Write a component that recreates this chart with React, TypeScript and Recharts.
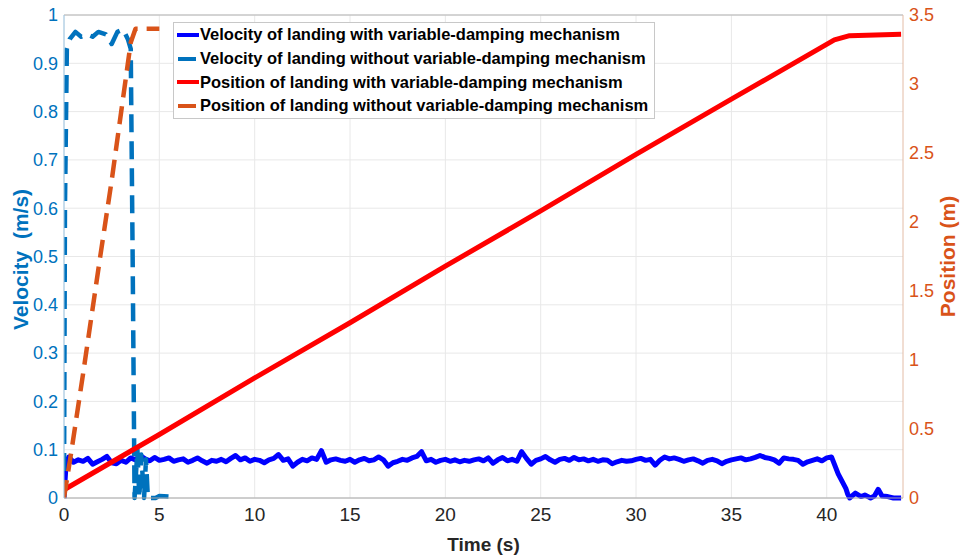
import React from "react";
import {
  ComposedChart,
  XAxis,
  YAxis,
  CartesianGrid,
  Line,
  ReferenceLine
} from "recharts";

// time (s) / value pairs
const velWithT = [
  0, 0.1, 0.25,
  0.5, 0.75, 1, 1.25, 1.5, 1.75, 2, 2.25,
  2.5, 2.75, 3, 3.25, 3.5, 3.75, 4, 4.25,
  4.5, 4.75, 5, 5.25, 5.5, 5.75, 6, 6.25,
  6.5, 6.75, 7, 7.25, 7.5, 7.75, 8, 8.25,
  8.5, 8.75, 9, 9.25, 9.5, 9.75, 10, 10.25,
  10.5, 10.75, 11, 11.25, 11.5, 11.75, 12, 12.25,
  12.5, 12.75, 13, 13.25, 13.5, 13.75, 14, 14.25,
  14.5, 14.75, 15, 15.25, 15.5, 15.75, 16, 16.25,
  16.5, 16.75, 17, 17.25, 17.5, 17.75, 18, 18.25,
  18.5, 18.75, 19, 19.25, 19.5, 19.75, 20, 20.25,
  20.5, 20.75, 21, 21.25, 21.5, 21.75, 22, 22.25,
  22.5, 22.75, 23, 23.25, 23.5, 23.75, 24, 24.25,
  24.5, 24.75, 25, 25.25, 25.5, 25.75, 26, 26.25,
  26.5, 26.75, 27, 27.25, 27.5, 27.75, 28, 28.25,
  28.5, 28.75, 29, 29.25, 29.5, 29.75, 30, 30.25,
  30.5, 30.75, 31, 31.25, 31.5, 31.75, 32, 32.25,
  32.5, 32.75, 33, 33.25, 33.5, 33.75, 34, 34.25,
  34.5, 34.75, 35, 35.25, 35.5, 35.75, 36, 36.25,
  36.5, 36.75, 37, 37.25, 37.5, 37.75, 38, 38.25,
  38.5, 38.75, 39, 39.25, 39.5, 39.75, 40, 40.25,
  40.4, 40.6, 40.8, 41, 41.1, 41.2, 41.5, 41.8, 42, 42.3, 42.5, 42.7, 42.9, 43.2, 43.5, 43.9
];
const velWithV = [
  0.0, 0.065, 0.085,
  0.074, 0.079, 0.076, 0.082, 0.07, 0.075, 0.08, 0.086,
  0.073, 0.071, 0.078, 0.074, 0.083, 0.079, 0.088, 0.081,
  0.077, 0.084, 0.078, 0.08, 0.083, 0.076, 0.079, 0.081,
  0.074, 0.078, 0.083, 0.077, 0.072, 0.078, 0.076, 0.08,
  0.075, 0.082, 0.088, 0.079, 0.083, 0.076, 0.08, 0.078,
  0.073, 0.079, 0.082, 0.09, 0.078, 0.081, 0.066, 0.074,
  0.08, 0.077, 0.083, 0.08, 0.098, 0.074, 0.079, 0.081,
  0.078, 0.076, 0.08, 0.074, 0.079, 0.082, 0.077, 0.079,
  0.085, 0.079, 0.066, 0.073, 0.076, 0.08, 0.078, 0.083,
  0.086, 0.096, 0.077, 0.08, 0.074, 0.078, 0.08, 0.076,
  0.079, 0.075, 0.078, 0.076, 0.079, 0.081, 0.077, 0.083,
  0.072, 0.079, 0.084, 0.077, 0.08, 0.076, 0.096, 0.082,
  0.07, 0.078, 0.081, 0.086, 0.079, 0.074, 0.08, 0.082,
  0.078, 0.084, 0.079, 0.081, 0.077, 0.08, 0.076, 0.079,
  0.078, 0.071, 0.075, 0.078, 0.076, 0.077, 0.08, 0.082,
  0.078, 0.08, 0.068, 0.078, 0.085, 0.081, 0.083, 0.08,
  0.076, 0.079, 0.081, 0.077, 0.072, 0.078, 0.08, 0.077,
  0.071, 0.076, 0.079, 0.081, 0.083, 0.079, 0.081, 0.084,
  0.088, 0.084, 0.082, 0.079, 0.072, 0.083, 0.081, 0.08,
  0.078, 0.07, 0.075, 0.078, 0.081, 0.077, 0.083, 0.085,
  0.07, 0.05, 0.035, 0.02, 0.008, 0.0, 0.01, 0.003, 0.006, 0.0, 0.004, 0.018, 0.004, 0.003, 0.0, 0.0
];

const velWithoutT = [
  0, 0.05, 0.15, 0.3, 0.6, 0.9, 1.2, 1.5, 1.8, 2.2, 2.5, 2.8, 3.1, 3.35, 3.5, 3.6, 3.7,
  3.85, 3.95, 4.05, 4.2, 4.3, 4.4, 4.8, 5.0, 5.5
];
const velWithoutV = [
  0, 0.6, 0.93, 0.95, 0.965, 0.955, 0.96, 0.955, 0.965, 0.96, 0.94, 0.965, 0.97, 0.95,
  0.93, 0.5, 0.0, 0.1, 0.0, 0.09, 0.0, 0.08, 0.0, 0.0, 0.004, 0.003
];

const posWithT = [0, 5, 10, 15, 20, 25, 30, 35, 40.4, 41.2, 43.9];
const posWithV = [0.06, 0.46, 0.87, 1.27, 1.68, 2.08, 2.49, 2.89, 3.32, 3.35, 3.36];

const posWithoutT = [0, 0.4, 1.0, 1.9, 2.5, 3.0, 3.5, 3.75, 5.0];
const posWithoutV = [0, 0.35, 0.9, 1.75, 2.3, 2.8, 3.3, 3.4, 3.4];

const timeTicks = [0, 5, 10, 15, 20, 25, 30, 35, 40];
const velTicks = [0, 0.1, 0.2, 0.3, 0.4, 0.5, 0.6, 0.7, 0.8, 0.9, 1];
const posTicks = [0, 0.5, 1, 1.5, 2, 2.5, 3, 3.5];

const zip = (ts: number[], vs: number[]) => ts.map((t, i) => ({ t, v: vs[i] }));

const series = [
  { name: "Velocity of landing with variable-damping mechanism", color: "#0000FF", dashed: false, axis: "left", data: zip(velWithT, velWithV) },
  { name: "Velocity of landing without variable-damping mechanism", color: "#0072BD", dashed: true, axis: "left", data: zip(velWithoutT, velWithoutV) },
  { name: "Position of landing with variable-damping mechanism", color: "#FF0000", dashed: false, axis: "right", data: zip(posWithT, posWithV) },
  { name: "Position of landing without variable-damping mechanism", color: "#D95319", dashed: true, axis: "right", data: zip(posWithoutT, posWithoutV) }
];

const font = "'Liberation Sans', Arial, sans-serif";

// MATLAB-style legend box sitting over the top-left of the axes
const LegendBox = () => (
  <div
    style={{
      position: "absolute",
      left: 173,
      top: 22,
      background: "#fff",
      border: "1px solid #c8c8c8",
      padding: "0px 6px 0px 2px",
      fontFamily: font,
      fontWeight: "bold",
      fontSize: 16.5,
      color: "#000",
      lineHeight: "23.8px"
    }}
  >
    {series.map((s) => (
      <div key={s.name} style={{ display: "flex", alignItems: "center", whiteSpace: "nowrap" }}>
        <svg width={24} height={10}>
          <line
            x1={s.dashed ? 2 : 1}
            x2={s.dashed ? 20 : 23}
            y1={5}
            y2={5}
            stroke={s.color}
            strokeWidth={4}
          />
        </svg>
        <span>{s.name}</span>
      </div>
    ))}
  </div>
);

const App: React.FC = () => {
  return (
    <div style={{ position: "absolute", left: 0, top: 0, width: 962, height: 557 }}>
      <ComposedChart
        width={962}
        height={557}
        margin={{ top: 15, right: 4, left: 4, bottom: 4 }}
        style={{ fontFamily: font }}
      >
        <CartesianGrid
          yAxisId="left"
          stroke="#e8e8e8"
          strokeWidth={1}
          verticalValues={timeTicks}
          horizontalValues={velTicks}
        />
        <XAxis
          dataKey="t"
          type="number"
          domain={[0, 44]}
          ticks={timeTicks}
          allowDataOverflow
          height={55}
          tickSize={0}
          tickMargin={10}
          stroke="#a8a8a8"
          tick={{ fill: "#262626", fontSize: 19 }}
          label={{
            value: "Time (s)",
            position: "insideBottom",
            offset: 2,
            fill: "#262626",
            fontSize: 19,
            fontWeight: "bold"
          }}
        />
        <YAxis
          yAxisId="left"
          domain={[0, 1]}
          ticks={velTicks}
          width={60}
          tickSize={0}
          tickMargin={6}
          stroke="#9cc6e4"
          tick={{ fill: "#0072BD", fontSize: 18 }}
          label={{
            value: "Velocity\u00a0\u00a0(m/s)",
            angle: -90,
            position: "center",
            dx: -13,
            dy: 3,
            fill: "#0072BD",
            fontSize: 21,
            fontWeight: "bold"
          }}
        />
        <YAxis
          yAxisId="right"
          orientation="right"
          domain={[0, 3.5]}
          ticks={posTicks}
          width={55}
          tickSize={0}
          tickMargin={6}
          stroke="#e3bca6"
          tick={{ fill: "#D95319", fontSize: 18 }}
          label={{
            value: "Position (m)",
            angle: -90,
            position: "center",
            dx: 17,
            fill: "#D95319",
            fontSize: 21,
            fontWeight: "bold"
          }}
        />
        <ReferenceLine yAxisId="left" y={1} stroke="#b4b4b4" strokeWidth={1} />
        {series.map((s) => (
          <Line
            key={s.name}
            yAxisId={s.axis}
            data={s.data}
            dataKey="v"
            name={s.name}
            type="linear"
            stroke={s.color}
            strokeWidth={s.dashed ? 4.5 : 5}
            strokeDasharray={s.dashed ? "18 9" : undefined}
            strokeLinejoin="round"
            dot={false}
            activeDot={false}
            isAnimationActive={false}
          />
        ))}
      </ComposedChart>
      <LegendBox />
    </div>
  );
};

export default App;
